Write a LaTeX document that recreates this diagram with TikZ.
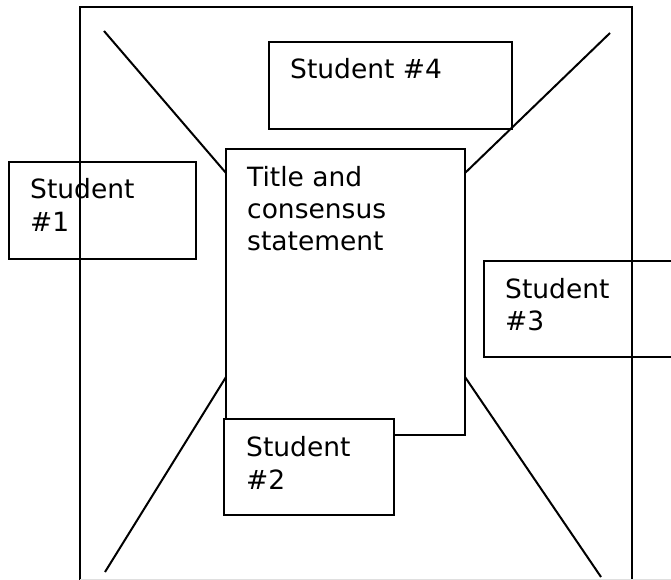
\documentclass[tikz,border=0pt]{standalone}
\usepackage{fontspec}
\setmainfont{DejaVu Sans}
\begin{document}
\begin{tikzpicture}[x=1pt,y=-1pt,
  ln/.style={line width=2pt, black},
  box/.style={rectangle, inner sep=0pt, anchor=north west},
  edge/.style={line width=2pt, black},
  lbl/.style={anchor=base west, inner sep=0pt, font=\fontsize{26.5}{32}\selectfont}]
\useasboundingbox (0,0) rectangle (671,580);
% outer frame (bottom edge not shown)
\coordinate (obl) at (80,581);
\coordinate (otl) at (80,7);
\coordinate (otr) at (632,7);
\coordinate (obr) at (632,581);
\draw[ln] (obl) -- (otl) -- (otr) -- (obr);
\draw[gray!25, line width=0.8pt] (80,579) -- (671,579);
% box nodes (outlines drawn from their corners)
\node[box, minimum width=239pt, minimum height=286pt] (center) at (226,149) {};
\node[box, minimum width=243pt, minimum height=87pt] (s4) at (269,42) {};
\node[box, minimum width=187pt, minimum height=97pt] (s1) at (9,162) {};
\node[box, minimum width=200pt, minimum height=96pt] (s3) at (484,261) {};
\node[box, minimum width=170pt, minimum height=96pt] (s2) at (224,419) {};
\draw[edge] (center.north west) rectangle (center.south east);
\draw[edge] (s4.north west) rectangle (s4.south east);
\draw[edge] (s1.north west) rectangle (s1.south east);
\draw[edge] (s3.north west) rectangle (s3.south east);
\draw[edge, fill=white] (s2.north west) rectangle (s2.south east);
% diagonals
\coordinate (d1a) at (104,31);
\coordinate (d1b) at (226,173);
\coordinate (d2a) at (610,33);
\coordinate (d2b) at (465,173);
\coordinate (d3a) at (105,572);
\coordinate (d3b) at (226,377);
\coordinate (d4a) at (601,577);
\coordinate (d4b) at (465,377);
\draw[ln] (d1a) -- (d1b);
\draw[ln] (d2a) -- (d2b);
\draw[ln] (d3a) -- (d3b);
\draw[ln] (d4a) -- (d4b);
% frame segments that run through the open boxes
\draw[ln] (s1.north -| otl) -- (s1.south -| otl);
\draw[ln] (s3.north -| otr) -- (s3.south -| otr);
% texts
\node[lbl] (t4) at (290,79) {Student \#4};
\node[lbl] (tc1) at (247,186) {Title and};
\node[lbl] (tc2) at (247,218) {consensus};
\node[lbl] (tc3) at (247,250) {statement};
\node[lbl] (t1a) at (30,198) {Student};
\node[lbl] (t1b) at (30,231) {\#1};
\node[lbl] (t3a) at (505,298) {Student};
\node[lbl] (t3b) at (505,330) {\#3};
\node[lbl] (t2a) at (246,456) {Student};
\node[lbl] (t2b) at (246,489) {\#2};
\end{tikzpicture}
\end{document}
